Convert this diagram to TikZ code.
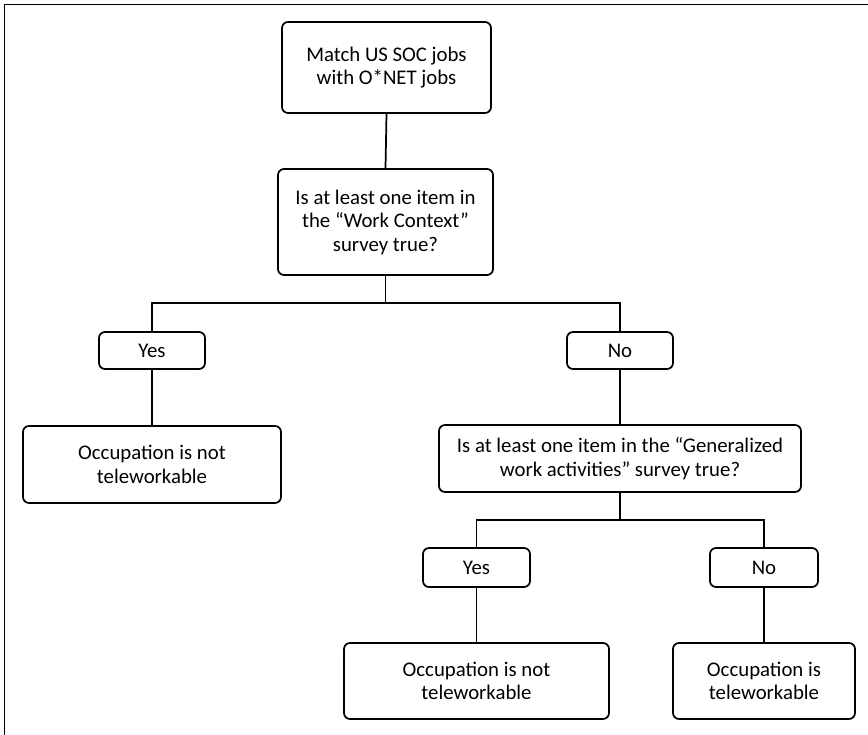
\documentclass[tikz,border=0pt]{standalone}
\usepackage{fontspec}
\setmainfont{Carlito}
\begin{document}
\begin{tikzpicture}[x=0.75pt, y=-0.75pt, line width=1.3pt,
    every node/.style={font=\fontsize{15.6}{17.6}\selectfont, align=center, inner sep=0pt},
    stepbox/.style={draw, rounded corners=4.5pt},
    wire/.style={line width=1.3pt}]
    \useasboundingbox (0,0) rectangle (868,735);
    % page frame (only top and left visible)
    \coordinate (frametl) at (4.5,4.5);
    \draw[line width=1.4pt] (868,4.5) -- (frametl) -- (4.5,735);

    \node (match) [stepbox, minimum width=156.75pt, minimum height=68.25pt] at (386.5,67.5) {Match US SOC jobs\\with O*NET jobs};
    \node (ctx) [stepbox, minimum width=161.25pt, minimum height=79.5pt] at (385.5,222) {Is at least one item in\\the “Work Context”\\survey true?};

    \node (yesa) [stepbox, minimum width=79.5pt, minimum height=27.75pt] at (152,350.5) {Yes};
    \node (noa) [stepbox, minimum width=79.5pt, minimum height=27.75pt] at (620,350.5) {No};
    \node (occa) [stepbox, minimum width=193.5pt, minimum height=57.75pt] at (152,464.5) {Occupation is not\\teleworkable};
    \node (gen) [stepbox, minimum width=271.5pt, minimum height=50.25pt] at (620,458.5) {Is at least one item in the “Generalized\\work activities” survey true?};

    \node (yesb) [stepbox, minimum width=80.25pt, minimum height=29.25pt] at (476.5,567.5) {Yes};
    \node (nob) [stepbox, minimum width=81pt, minimum height=29.25pt] at (764,567.5) {No};
    \node (occb) [stepbox, minimum width=198.75pt, minimum height=57pt] at (476.5,681) {Occupation is not\\teleworkable};
    \node (occc) [stepbox, minimum width=136.5pt, minimum height=57pt] at (764,681) {Occupation is\\teleworkable};

    \coordinate (splita) at (ctx.south |- 0,303);
    \coordinate (splitb) at (gen.south |- 0,520);

    \draw[wire] (match.south) -- (ctx.north);
    \draw[wire] (ctx.south) -- (splita) -| (yesa.north);
    \draw[wire] (splita) -| (noa.north);
    \draw[wire] (yesa.south) -- (occa.north);
    \draw[wire] (noa.south) -- (gen.north);
    \draw[wire] (gen.south) -- (splitb) -| (yesb.north);
    \draw[wire] (splitb) -| (nob.north);
    \draw[wire] (yesb.south) -- (occb.north);
    \draw[wire] (nob.south) -- (occc.north);
\end{tikzpicture}
\end{document}
